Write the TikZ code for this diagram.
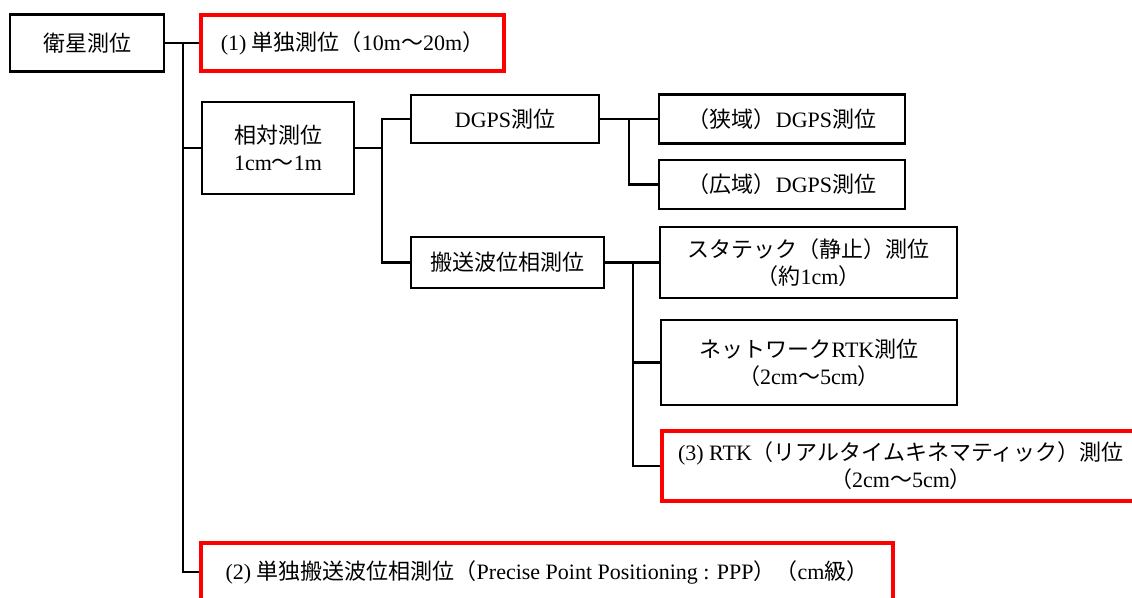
\documentclass[tikz,border=0pt]{standalone}
\usepackage{fontspec}
\setmainfont{Liberation Serif}
\newfontfamily\jfont{Noto Sans CJK JP}
\newcommand\J[1]{{\jfont #1}}
\begin{document}
\begin{tikzpicture}[x=1pt,y=-1pt,
  every node/.style={font=\fontsize{22}{27}\selectfont, inner sep=0pt, align=center},
  box/.style={draw=black, line width=2.2pt},
  redbox/.style={draw=red, line width=3.8pt},
  conn/.style={draw=black, line width=2.2pt}]
\useasboundingbox (0,0) rectangle (1132,597);
\clip (0,0) rectangle (1132,597);
\fill[white] (0,0) rectangle (1132,597);
% nodes
\node[box, minimum width=154pt, minimum height=57pt] (sat) at (87,43) {\J{衛星測位}};
\node[redbox, minimum width=303pt, minimum height=56pt] (p1) at (352.5,43) {(1) \J{単独測位（}10m\J{～}20m\J{）}};
\node[box, minimum width=152pt, minimum height=92pt] (rel) at (278,148) {\J{相対測位}\\1cm\J{～}1m};
\node[box, minimum width=188pt, minimum height=48pt] (dgps) at (505,119) {DGPS\J{測位}};
\node[box, minimum width=246pt, minimum height=49pt] (narrow) at (782,119) {\J{（狭域）}DGPS\J{測位}};
\node[box, minimum width=246pt, minimum height=49pt] (wide) at (782,184.5) {\J{（広域）}DGPS\J{測位}};
\node[box, minimum width=193pt, minimum height=51pt] (carrier) at (507.5,262.5) {\J{搬送波位相測位}};
\node[box, minimum width=297pt, minimum height=71pt] (static) at (808.5,262.5) {\J{スタテック（静止）測位}\\\J{（約}1cm\J{）}};
\node[box, minimum width=296pt, minimum height=85pt] (net) at (809,362.5) {\J{ネットワーク}RTK\J{測位}\\\J{（}2cm\J{～}5cm\J{）}};
\node[redbox, minimum width=478pt, minimum height=70pt] (rtk) at (901,466) {(3) RTK\J{（リアルタイムキネマティック）測位}\\\J{（}2cm\J{～}5cm\J{）}};
\node[redbox, minimum width=692pt, minimum height=58pt] (p2) at (547,572) {(2) \J{単独搬送波位相測位（}Precise Point Positioning : PPP\J{）（}cm\J{級）}};
% junctions
\coordinate (j1) at (183,43);
\coordinate (j2) at (382,148);
\coordinate (j3) at (629,119);
\coordinate (j4) at (633,262.5);
% connectors
\draw[conn] (sat.east) -- (p1.west);
\draw[conn] (j1) |- (rel.west);
\draw[conn] (j1) |- (p2.west);
\draw[conn] (rel.east) -- (j2);
\draw[conn] (j2) |- (dgps.west);
\draw[conn] (j2) |- (carrier.west);
\draw[conn] (dgps.east) -- (narrow.west);
\draw[conn] (j3) |- (wide.west);
\draw[conn] (carrier.east) -- (static.west);
\draw[conn] (j4) |- (net.west);
\draw[conn] (j4) |- (rtk.west);
\end{tikzpicture}
\end{document}
